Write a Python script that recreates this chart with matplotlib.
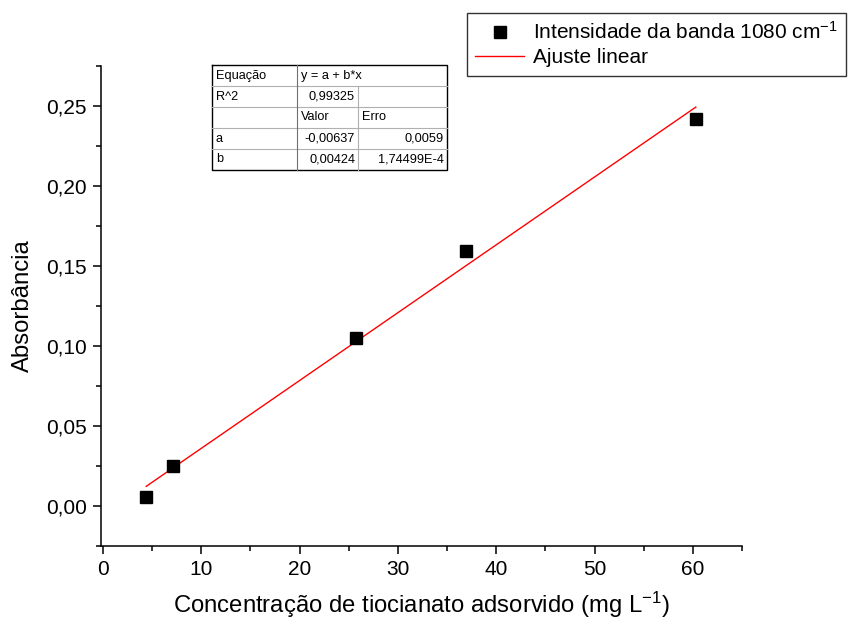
import matplotlib
matplotlib.use("Agg")
import matplotlib.pyplot as plt
from matplotlib.ticker import MultipleLocator, FuncFormatter
from matplotlib.lines import Line2D
import numpy as np

plt.rcParams['font.family'] = ['Liberation Sans', 'DejaVu Sans']
plt.rcParams['mathtext.fontset'] = 'custom'
plt.rcParams['mathtext.rm'] = 'Liberation Sans'
plt.rcParams['mathtext.it'] = 'Liberation Sans:italic'

# Concentration of adsorbed thiocyanate (mg/L) and absorbance of the 1080 cm-1 band
concentracao = [4.4, 7.1, 25.7, 36.9, 60.3]
absorbancia = [0.0056, 0.025, 0.105, 0.1595, 0.242]

# Linear fit parameters y = a + b*x
coef_a = -0.00637
coef_b = 0.00424
erro_a = "0,0059"
erro_b = "1,74499E-4"
r2 = "0,99325"

fig = plt.figure(figsize=(8.48, 6.26), dpi=100)
ax = fig.add_axes([101/848, 1 - 546/626, (742 - 101)/848, (546 - 66)/626])

ax.plot(concentracao, absorbancia, linestyle='none', marker='s', markersize=8.5,
        color='black', label='Intensidade da banda 1080 cm$^{-1}$', zorder=3)
xfit = np.array([min(concentracao), max(concentracao)])
ax.plot(xfit, coef_a + coef_b * xfit, color='red', lw=1.0, label='Ajuste linear', zorder=2)

ax.set_xlim(-0.2, 65)
ax.set_ylim(-0.025, 0.275)
ax.xaxis.set_major_locator(MultipleLocator(10))
ax.xaxis.set_minor_locator(MultipleLocator(5))
ax.yaxis.set_major_locator(MultipleLocator(0.05))
ax.yaxis.set_minor_locator(MultipleLocator(0.025))
ax.yaxis.set_major_formatter(FuncFormatter(lambda v, p: f"{v:.2f}".replace('.', ',').replace('-0,00', '0,00')))
ax.xaxis.set_major_formatter(FuncFormatter(lambda v, p: f"{v:.0f}"))

for s in ['top', 'right']:
    ax.spines[s].set_visible(False)
for s in ['left', 'bottom']:
    ax.spines[s].set_linewidth(1.1)
ax.tick_params(which='major', direction='out', length=6, width=1.1, labelsize=15, pad=4)
ax.tick_params(which='minor', direction='out', length=3.5, width=1.1)

ax.set_xlabel('Concentração de tiocianato adsorvido (mg L$^{-1}$)', fontsize=17.2, labelpad=8)
ax.set_ylabel('Absorbância', fontsize=17.2, labelpad=9)

leg = fig.legend(loc='upper left', bbox_to_anchor=(467/848, 1 - 13/626),
                 fontsize=15, frameon=True, fancybox=False, edgecolor='black',
                 borderpad=0.4, handlelength=2.35, handletextpad=0.43, labelspacing=0.25,
                 borderaxespad=0)
leg.get_frame().set_linewidth(1.0)

# Fit results table
def px(x, y):
    return x / 848, 1 - y / 626

tx0, tx1, tx2, tx3 = 212, 297, 358, 447
rows_y = [65, 86, 107, 128, 149, 170]
grey = '#b0b0b0'
# outer border
fig.add_artist(Line2D([tx0/848, tx3/848, tx3/848, tx0/848, tx0/848],
                      [1-rows_y[0]/626, 1-rows_y[0]/626, 1-rows_y[-1]/626, 1-rows_y[-1]/626, 1-rows_y[0]/626],
                      color='black', lw=1.0, transform=fig.transFigure))
for y in rows_y[1:-1]:
    fig.add_artist(Line2D([tx0/848, tx3/848], [1-y/626, 1-y/626], color=grey, lw=0.8,
                          transform=fig.transFigure))
fig.add_artist(Line2D([tx1/848, tx1/848], [1-rows_y[0]/626, 1-rows_y[-1]/626], color='#707070', lw=0.8,
                      transform=fig.transFigure))
fig.add_artist(Line2D([tx2/848, tx2/848], [1-rows_y[1]/626, 1-rows_y[-1]/626], color=grey, lw=0.8,
                      transform=fig.transFigure))

cells = [
    [('Equação', 'l', 0), ('y = a + b*x', 'l', 1)],
    [('R^2', 'l', 0), (r2, 'r', 1)],
    [('Valor', 'l', 1), ('Erro', 'l', 2)],
    [('a', 'l', 0), (f"{coef_a:.5f}".replace('.', ','), 'r', 1), (erro_a, 'r', 2)],
    [('b', 'l', 0), (f"{coef_b:.5f}".replace('.', ','), 'r', 1), (erro_b, 'r', 2)],
]
col_edges = [(tx0, tx1), (tx1, tx2), (tx2, tx3)]
for i, row in enumerate(cells):
    yc = (rows_y[i] + rows_y[i + 1]) / 2
    for text, align, c in row:
        x_l, x_r = col_edges[c]
        if align == 'l':
            x, ha = x_l + 4, 'left'
        else:
            x, ha = x_r - 3, 'right'
        fig.text(*px(x, yc), text, ha=ha, va='center', fontsize=9.2)

fig.savefig('out.png', dpi=100)
